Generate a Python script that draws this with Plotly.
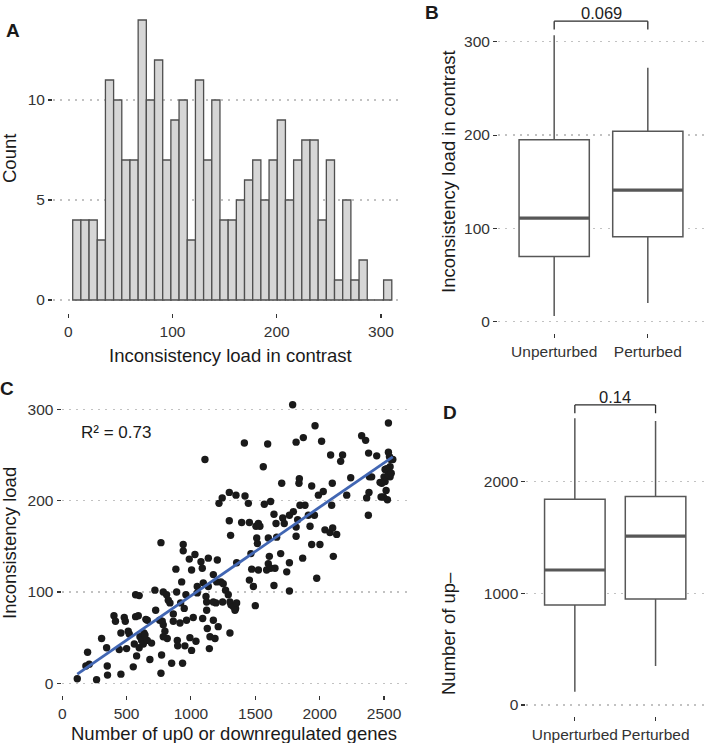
import numpy as np
import plotly.graph_objects as go

# ---------------- Panel A: histogram counts ----------------
hist_counts = [4, 4, 4, 3, 11, 10, 7, 7, 14, 10, 12, 7, 9, 10, 3, 11, 7, 10, 4, 4,
               5, 6, 7, 5, 7, 9, 5, 7, 8, 8, 4, 7, 1, 5, 1, 2, 0, 0, 1]
hist_start = 4.2
hist_binwidth = 7.85
a_xticks = [0, 100, 200, 300]
a_yticks = [0, 5, 10]

# ---------------- Panel B: box stats ----------------
groups = ["Unperturbed", "Perturbed"]
b_lower = [6, 20]
b_q1 = [70, 91]
b_median = [111, 141]
b_q3 = [195, 204]
b_upper = [307, 272]
b_pvalue = "0.069"
b_yticks = [0, 100, 200, 300]

# ---------------- Panel C: scatter ----------------
c_x = [117, 197, 184, 210, 267, 306, 345, 350, 352, 402, 414, 443, 456, 456, 482, 490, 500, 513,
       521, 552, 560, 570, 570, 598, 578, 591, 598, 604, 617, 630, 635, 650, 661, 681, 694, 720,
       726, 767, 767, 772, 777, 785, 785, 798, 811, 816, 824, 837, 850, 863, 883, 889, 894, 897,
       915, 928, 935, 940, 940, 948, 953, 961, 966, 987, 992, 1005, 1005, 1018, 1031, 1039, 1049,
       1049, 1078, 1088, 1091, 1096, 1109, 1117, 1122, 1127, 1135, 1135, 1143, 1148, 1174, 1187,
       1194, 1205, 1212, 1218, 1233, 1243, 1246, 1269, 1290, 1298, 1298, 1303, 1308, 1311, 1347,
       1350, 1355, 1394, 1415, 1420, 1446, 1454, 1454, 1472, 1485, 1500, 1505, 1511, 1516, 1524,
       1524, 1562, 1570, 1588, 1596, 1601, 1601, 1609, 1619, 1619, 1645, 1645, 1653, 1661, 1666,
       1697, 1705, 1713, 1744, 1765, 1765, 1765, 1790, 1796, 1817, 1817, 1817, 1829, 1839, 1842,
       1847, 1868, 1873, 1886, 1912, 1925, 1938, 1938, 1959, 1964, 1977, 1990, 2002, 2015, 2028,
       2041, 2080, 2085, 2093, 2098, 2101, 2106, 2132, 2163, 2178, 2210, 2241, 2326, 2357, 2365,
       2378, 2380, 2383, 2386, 2404, 2443, 2469, 2477, 2495, 2500, 2508, 2516, 2526, 2534, 2534,
       2542, 2547, 2547, 2552, 2568, 2508,
       1200, 1251, 920, 1122, 1174, 661, 757, 863, 1174, 785, 1466, 2521, 2534, 2482, 2556,
       1303, 1329, 1355, 1342, 1725, 1536, 643]
c_y = [5, 34, 19, 21, 4, 49, 39, 19, 9, 74, 68, 37, 55, 10, 72, 68, 38, 57,
       54, 18, 43, 73, 97, 96, 30, 74, 39, 51, 47, 43, 55, 70, 47, 26, 44, 102,
       80, 154, 11, 31, 68, 100, 64, 57, 97, 49, 91, 88, 22, 76, 125, 100, 47, 41,
       66, 111, 22, 152, 145, 82, 41, 97, 69, 136, 50, 124, 36, 72, 141, 46, 106,
       99, 133, 126, 71, 110, 245, 95, 80, 60, 137, 106, 38, 51, 119, 49,
       88, 135, 62, 197, 111, 203, 89, 102, 97, 178, 209, 55, 162, 86, 82,
       206, 132, 176, 263, 205, 197, 176, 113, 125, 106, 85, 172, 159, 153, 175,
       124, 237, 196, 124, 262, 159, 131, 139, 199, 126, 185, 107, 126, 175, 160,
       142, 219, 181, 122, 184, 132, 101, 305, 188, 264, 171, 161, 179, 219, 224,
       195, 137, 269, 195, 184, 172, 216, 152, 184, 282, 115, 206, 152, 265, 210,
       168, 165, 250, 195, 219, 170, 139, 163, 243, 250, 206, 225, 271, 266, 203,
       184, 252, 209, 226, 226, 249, 220, 204, 204, 226, 234, 211, 201, 285, 253,
       248, 237, 226, 245, 245, 221,
       111, 109, 88, 89, 89, 69, 69, 68, 69, 51, 142, 235, 228, 219, 230,
       89, 84, 88, 80, 175, 172, 53]
c_r2 = "R² = 0.73"
c_xticks = [0, 500, 1000, 1500, 2000, 2500]
c_yticks = [0, 100, 200, 300]

# ---------------- Panel D: box stats ----------------
d_lower = [119, 349]
d_q1 = [895, 949]
d_median = [1209, 1513]
d_q3 = [1842, 1866]
d_upper = [2567, 2543]
d_pvalue = "0.14"
d_yticks = [0, 1000, 2000]

# ---------------- styling ----------------
W, H = 704, 743
FONT = "Liberation Sans, Arial, sans-serif"
TICKC = "#333333"
GRID = "#c2c2c2"
BOXC = "#575757"
BOXW = 0.75


def fx(p):
    return p / W


def fy(p):
    return 1 - p / H


fig = go.Figure()

# A histogram
centers = [hist_start + hist_binwidth * (i + 0.5) for i in range(len(hist_counts))]
fig.add_trace(go.Bar(x=centers, y=hist_counts, width=hist_binwidth,
                     marker=dict(color="#d6d6d6", line=dict(color="#4f4f4f", width=1.3)),
                     xaxis="x", yaxis="y", showlegend=False, hoverinfo="skip"))

# B box
fig.add_trace(go.Box(x=[0, 1], q1=b_q1, median=b_median, q3=b_q3,
                     lowerfence=b_lower, upperfence=b_upper, width=BOXW,
                     fillcolor="white", line=dict(color=BOXC, width=1.5),
                     whiskerwidth=0, boxpoints=False, xaxis="x2", yaxis="y2",
                     showlegend=False))
for i, m in enumerate(b_median):
    fig.add_trace(go.Scatter(x=[i - BOXW / 2, i + BOXW / 2], y=[m, m], mode="lines",
                             line=dict(color=BOXC, width=3.2), xaxis="x2", yaxis="y2",
                             showlegend=False, hoverinfo="skip"))

# C scatter + fit
cx = np.array(c_x, dtype=float)
cy = np.array(c_y, dtype=float)
slope, intercept = np.polyfit(cx, cy, 1)
fx_line = np.array([cx.min(), cx.max()])
fig.add_trace(go.Scatter(x=c_x, y=c_y, mode="markers",
                         marker=dict(color="#1a1a1a", size=7.4),
                         xaxis="x3", yaxis="y3", showlegend=False))
fig.add_trace(go.Scatter(x=fx_line, y=slope * fx_line + intercept, mode="lines",
                         line=dict(color="#4166b3", width=2.8),
                         xaxis="x3", yaxis="y3", showlegend=False))

# D box
fig.add_trace(go.Box(x=[0, 1], q1=d_q1, median=d_median, q3=d_q3,
                     lowerfence=d_lower, upperfence=d_upper, width=BOXW,
                     fillcolor="white", line=dict(color=BOXC, width=1.5),
                     whiskerwidth=0, boxpoints=False, xaxis="x4", yaxis="y4",
                     showlegend=False))
for i, m in enumerate(d_median):
    fig.add_trace(go.Scatter(x=[i - BOXW / 2, i + BOXW / 2], y=[m, m], mode="lines",
                             line=dict(color=BOXC, width=3.2), xaxis="x4", yaxis="y4",
                             showlegend=False, hoverinfo="skip"))

tickfont = dict(family=FONT, size=15.5, color=TICKC)


def xax(domain, rng, tickvals, ticktext=None, anchor="y"):
    d = dict(domain=domain, range=rng, tickvals=tickvals, showgrid=False, zeroline=False,
             showline=False, ticks="outside", ticklen=4, tickwidth=1.1, tickcolor=TICKC,
             tickfont=tickfont, anchor=anchor, fixedrange=True, automargin=False)
    if ticktext is not None:
        d["ticktext"] = ticktext
    return d


def yax(domain, rng, tickvals, anchor="x"):
    return dict(domain=domain, range=rng, tickvals=tickvals, showgrid=True, gridcolor=GRID,
                gridwidth=1.3, griddash="2px,5.3px", zeroline=False, showline=False,
                ticks="outside", ticklen=4, tickwidth=1.1, tickcolor=TICKC,
                tickfont=tickfont, anchor=anchor, fixedrange=True, automargin=False)


shapes = []
annotations = []


def bracket(xref, yref, y_top, y_bot):
    for seg in ([0, y_bot, 0, y_top], [0, y_top, 1, y_top], [1, y_top, 1, y_bot]):
        shapes.append(dict(type="line", xref=xref, yref=yref, x0=seg[0], y0=seg[1],
                           x1=seg[2], y1=seg[3], line=dict(color="#2b2b2b", width=1.3)))


bracket("x2", "y2", 322, 313)
annotations.append(dict(x=0.5, y=331, xref="x2", yref="y2", text=b_pvalue, showarrow=False,
                        font=dict(family=FONT, size=16.5, color="#222")))
bracket("x4", "y4", 2687, 2612)
annotations.append(dict(x=0.5, y=2762, xref="x4", yref="y4", text=d_pvalue, showarrow=False,
                        font=dict(family=FONT, size=16.5, color="#222")))


def text(x, y, s, size=18.5, angle=0, bold=False, xanchor="center"):
    annotations.append(dict(x=fx(x), y=fy(y), xref="paper", yref="paper",
                            text=f"<b>{s}</b>" if bold else s, showarrow=False,
                            textangle=angle, xanchor=xanchor, yanchor="middle",
                            font=dict(family=FONT, size=size, color="#1a1a1a")))


# axis titles
text(230, 355, "Inconsistency load in contrast")
text(9, 159, "Count", angle=-90)
text(448, 172, "Inconsistency load in contrast", angle=-90)
text(234, 733, "Number of up0 or downregulated genes")
text(9, 543, "Inconsistency load", angle=-90)
text(448, 634, "Number of up–", angle=-90)
# R2
text(79, 432, c_r2, size=17, xanchor="left")
# panel letters
text(13, 30, "A", size=19, bold=True)
text(432, 12, "B", size=19, bold=True)
text(7, 388, "C", size=19, bold=True)
text(450, 412, "D", size=19, bold=True)

fig.update_layout(
    template="none",
    width=W, height=H, margin=dict(l=0, r=0, t=0, b=0, pad=0, autoexpand=False),
    paper_bgcolor="white", plot_bgcolor="white", showlegend=False,
    boxmode="overlay", bargap=0,
    font=dict(family=FONT),
    xaxis=xax([fx(53), fx(403)], [-14.7, 321.1], a_xticks, anchor="y"),
    yaxis=yax([fy(313), fy(6)], [-0.65, 14.7], a_yticks, anchor="x"),
    xaxis2=xax([fx(498), 1.0], [-0.6, 1.6], [0, 1], groups, anchor="y2"),
    yaxis2=yax([fy(333), fy(3)], [-12.1, 341.5], b_yticks, anchor="x2"),
    xaxis3=xax([fx(61.5), fx(408.5)], [-5.5, 2690], c_xticks, anchor="y3"),
    yaxis3=yax([fy(695), fy(391)], [-12.8, 320], c_yticks, anchor="x3"),
    xaxis4=xax([fx(526.4), 1.0], [-0.6, 1.6], [0, 1], groups, anchor="y4"),
    yaxis4=yax([fy(716), fy(385)], [-98.5, 2865.6], d_yticks, anchor="x4"),
    shapes=shapes, annotations=annotations,
)

fig.write_html("out.html", config={"displayModeBar": False, "staticPlot": True},
               post_script="document.body.style.margin='0';document.body.style.padding='0';")
